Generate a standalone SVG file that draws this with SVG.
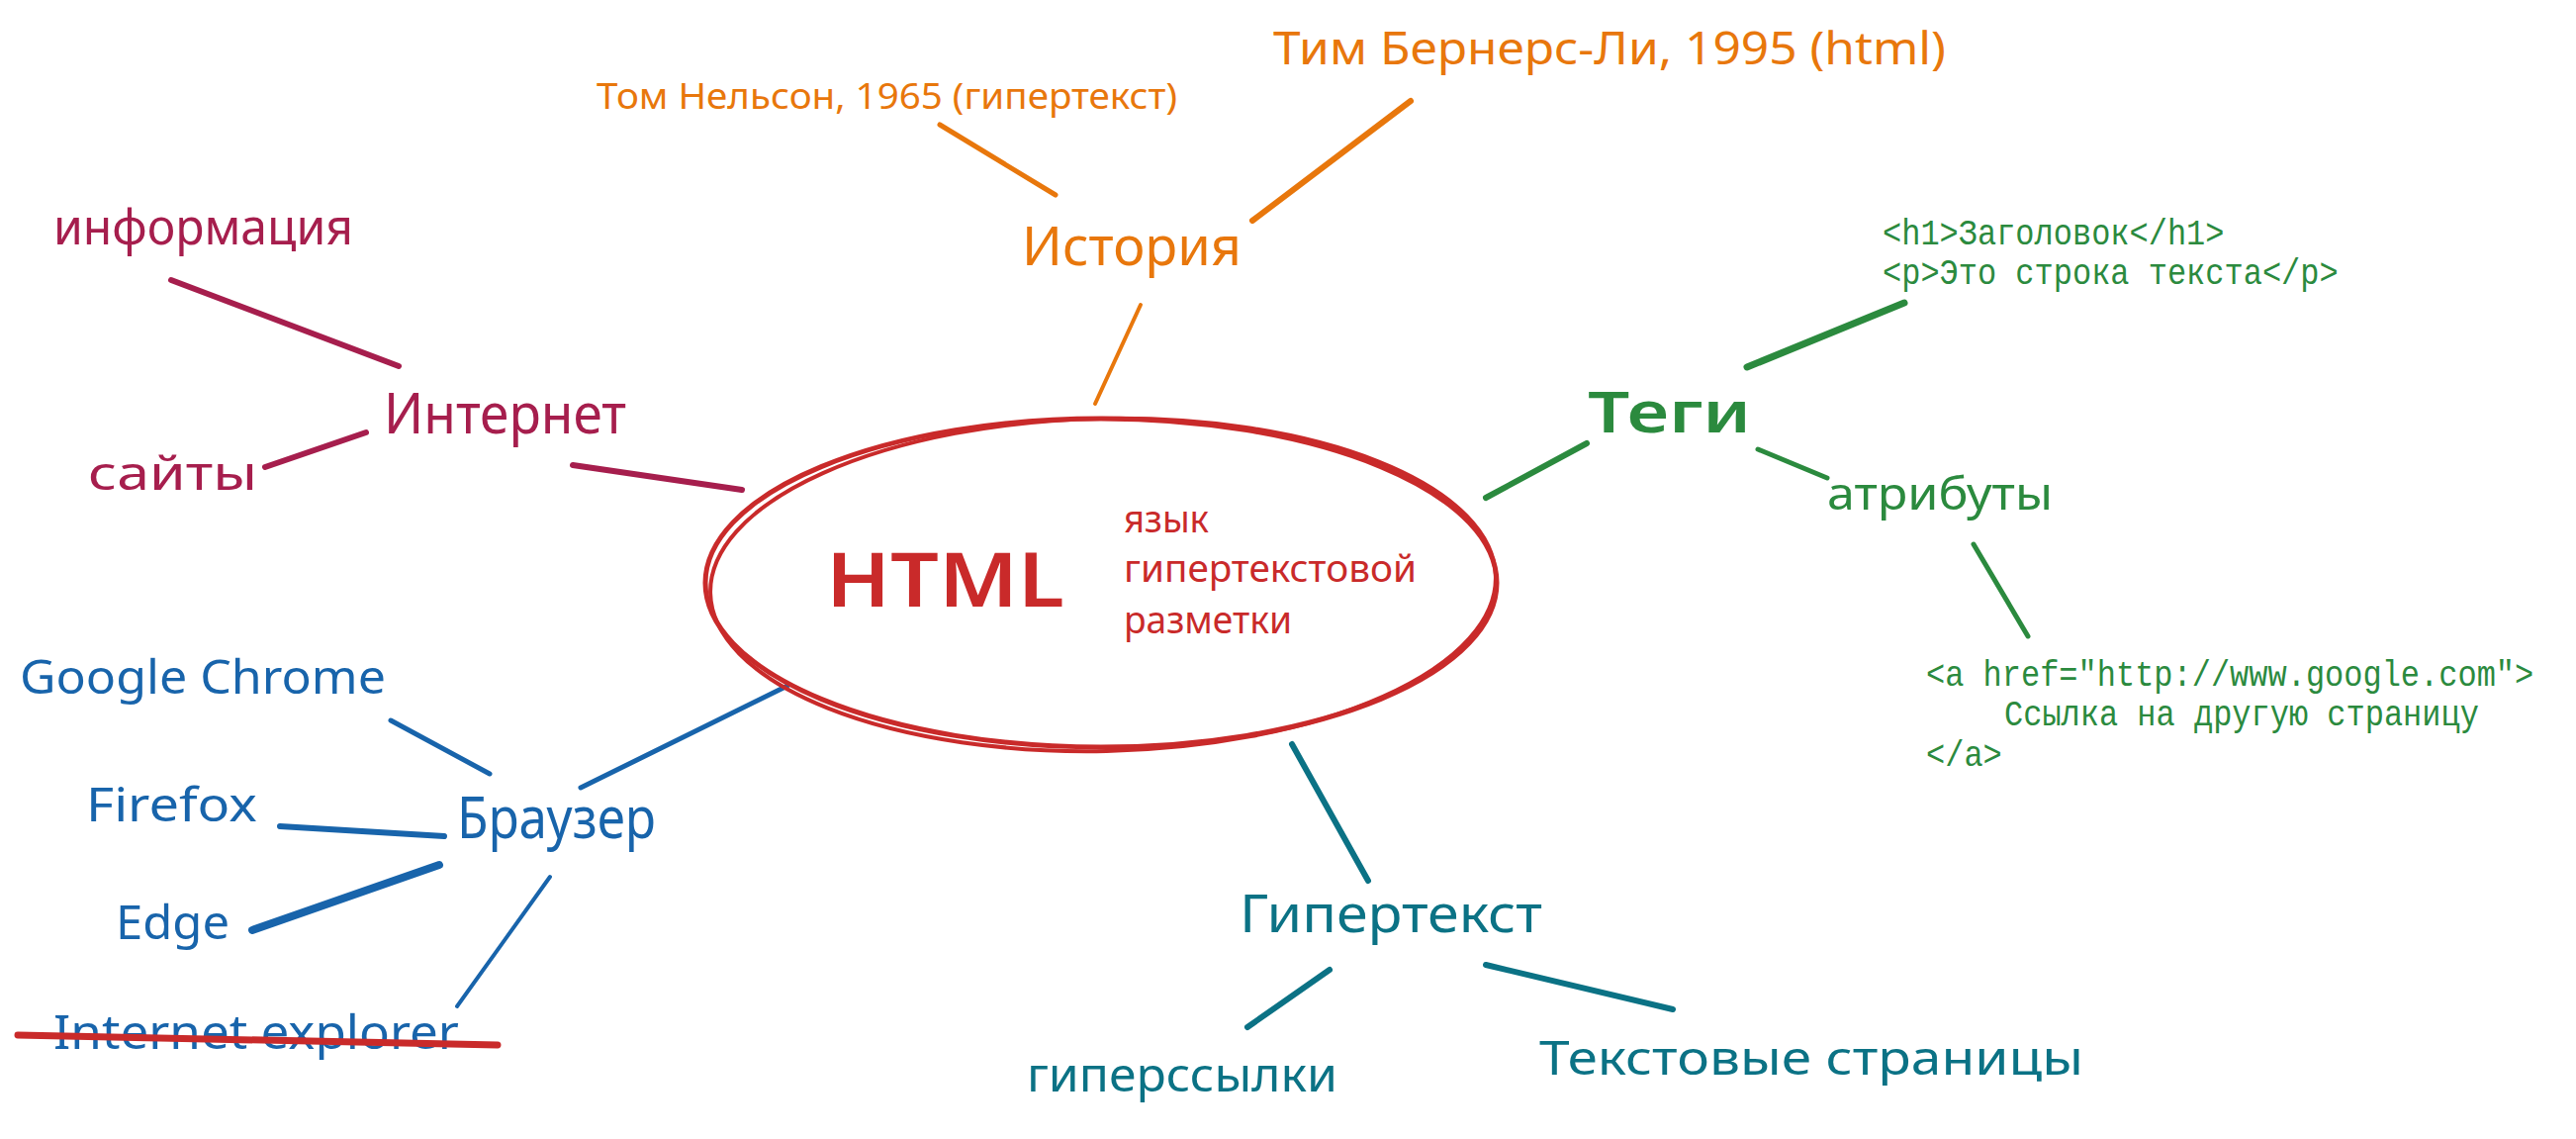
<svg xmlns="http://www.w3.org/2000/svg" width="2604" height="1151" viewBox="0 0 2604 1151">
<style>
.hw{font-family:"Noto Sans","Open Sans",sans-serif;}
.mono{font-family:"Liberation Mono","DejaVu Sans Mono",monospace;font-size:32px;fill:#2b8a3e;}
.ln{fill:none;stroke-linecap:round;stroke-linejoin:round;}
.mag{fill:#a61e4d;} .org{fill:#e8770c;} .grn{fill:#2b8a3e;} .blu{fill:#1864ab;} .tea{fill:#0b7285;} .red{fill:#c92a2a;}
.smag{stroke:#a61e4d;} .sorg{stroke:#e8770c;} .sgrn{stroke:#2b8a3e;} .sblu{stroke:#1864ab;} .stea{stroke:#0b7285;} .sred{stroke:#c92a2a;}
</style>
<rect width="2604" height="1151" fill="#ffffff"/>
<g id="connectors" class="ln">
  <line class="smag" x1="173" y1="283" x2="403" y2="370" stroke-width="6"/>
  <line class="smag" x1="268" y1="472" x2="370" y2="437" stroke-width="6"/>
  <line class="smag" x1="579" y1="470" x2="750" y2="495" stroke-width="6"/>
  <line class="sorg" x1="950" y1="126" x2="1067" y2="197" stroke-width="5"/>
  <line class="sorg" x1="1426" y1="102" x2="1266" y2="223" stroke-width="6"/>
  <line class="sorg" x1="1153" y1="308" x2="1107" y2="408" stroke-width="4"/>
  <line class="sgrn" x1="1925" y1="306" x2="1766" y2="371" stroke-width="7"/>
  <line class="sgrn" x1="1604" y1="448" x2="1502" y2="503" stroke-width="6"/>
  <line class="sgrn" x1="1777" y1="454" x2="1847" y2="483" stroke-width="5"/>
  <line class="sgrn" x1="1995" y1="550" x2="2050" y2="643" stroke-width="5"/>
  <line class="sblu" x1="395" y1="728" x2="495" y2="782" stroke-width="5"/>
  <line class="sblu" x1="283" y1="835" x2="449" y2="845" stroke-width="6"/>
  <line class="sblu" x1="255" y1="940" x2="444" y2="874" stroke-width="8"/>
  <line class="sblu" x1="556" y1="886" x2="462" y2="1017" stroke-width="4"/>
  <line class="sblu" x1="587" y1="796" x2="796" y2="693" stroke-width="5"/>
  <line class="stea" x1="1306" y1="752" x2="1383" y2="890" stroke-width="6"/>
  <line class="stea" x1="1344" y1="980" x2="1261" y2="1038" stroke-width="6"/>
  <line class="stea" x1="1502" y1="975" x2="1691" y2="1020" stroke-width="6"/>
</g>
<g id="html">
  <ellipse class="ln sred" cx="1113" cy="589" rx="400" ry="166" stroke-width="5"/>
  <ellipse class="ln sred" cx="1115" cy="591" rx="397" ry="168" stroke-width="4" transform="rotate(-1.2 1115 591)"/>
  <text class="hw red" x="835" y="613" font-size="76" font-weight="600" textLength="241" lengthAdjust="spacingAndGlyphs">HTML</text>
  <text class="hw red" x="1136" y="538" font-size="38" textLength="86" lengthAdjust="spacingAndGlyphs">язык</text>
  <text class="hw red" x="1136" y="588" font-size="38" textLength="296" lengthAdjust="spacingAndGlyphs">гипертекстовой</text>
  <text class="hw red" x="1136" y="640" font-size="38" textLength="170" lengthAdjust="spacingAndGlyphs">разметки</text>
</g>
<g id="internet">
  <text class="hw mag" x="388" y="438" font-size="56" textLength="245" lengthAdjust="spacingAndGlyphs">Интернет</text>
</g>
<g id="informaciya">
  <text class="hw mag" x="54" y="247" font-size="50" textLength="303" lengthAdjust="spacingAndGlyphs">информация</text>
</g>
<g id="saity">
  <text class="hw mag" x="89" y="495" font-size="48" textLength="171" lengthAdjust="spacingAndGlyphs">сайты</text>
</g>
<g id="istoriya">
  <text class="hw org" x="1033" y="268" font-size="54" textLength="222" lengthAdjust="spacingAndGlyphs">История</text>
</g>
<g id="nelson">
  <text class="hw org" x="603" y="110" font-size="36" textLength="587" lengthAdjust="spacingAndGlyphs">Том Нельсон, 1965 (гипертекст)</text>
</g>
<g id="berners-lee">
  <text class="hw org" x="1287" y="65" font-size="46" textLength="680" lengthAdjust="spacingAndGlyphs">Тим Бернерс-Ли, 1995 (html)</text>
</g>
<g id="tegi">
  <text class="hw grn" x="1605" y="437" font-size="58" font-weight="600" textLength="165" lengthAdjust="spacingAndGlyphs">Теги</text>
</g>
<g id="tags-example" transform="matrix(1 0 0 1.15 0 -40.05)">
  <text class="mono" x="1903" y="249.6">&lt;h1&gt;Заголовок&lt;/h1&gt;</text>
  <text class="mono" x="1903" y="284.4">&lt;p&gt;Это строка текста&lt;/p&gt;</text>
</g>
<g id="atributy">
  <text class="hw grn" x="1847" y="515" font-size="46" textLength="228" lengthAdjust="spacingAndGlyphs">атрибуты</text>
</g>
<g id="link-example" transform="matrix(1 0 0 1.15 0 -110)">
  <text class="mono" x="1947" y="698.3">&lt;a href="http://www.google.com"&gt;</text>
  <text class="mono" x="2026" y="733">Ссылка на другую страницу</text>
  <text class="mono" x="1947" y="768.7">&lt;/a&gt;</text>
</g>
<g id="brauzer">
  <text class="hw blu" x="462" y="847" font-size="58" textLength="201" lengthAdjust="spacingAndGlyphs">Браузер</text>
</g>
<g id="chrome">
  <text class="hw blu" x="20" y="701" font-size="48" textLength="370" lengthAdjust="spacingAndGlyphs">Google Chrome</text>
</g>
<g id="firefox">
  <text class="hw blu" x="87" y="830" font-size="48" textLength="173" lengthAdjust="spacingAndGlyphs">Firefox</text>
</g>
<g id="edge">
  <text class="hw blu" x="117" y="949" font-size="48" textLength="115" lengthAdjust="spacingAndGlyphs">Edge</text>
</g>
<g id="ie">
  <text class="hw blu" x="54" y="1060" font-size="48" textLength="410" lengthAdjust="spacingAndGlyphs">Internet explorer</text>
  <line class="ln sred" x1="18" y1="1046" x2="503" y2="1056" stroke-width="7"/>
</g>
<g id="gipertekst">
  <text class="hw tea" x="1253" y="942" font-size="52" textLength="306" lengthAdjust="spacingAndGlyphs">Гипертекст</text>
</g>
<g id="giperssylki">
  <text class="hw tea" x="1038" y="1103" font-size="48" textLength="314" lengthAdjust="spacingAndGlyphs">гиперссылки</text>
</g>
<g id="tekstovye">
  <text class="hw tea" x="1556" y="1086" font-size="48" textLength="550" lengthAdjust="spacingAndGlyphs">Текстовые страницы</text>
</g>
</svg>
